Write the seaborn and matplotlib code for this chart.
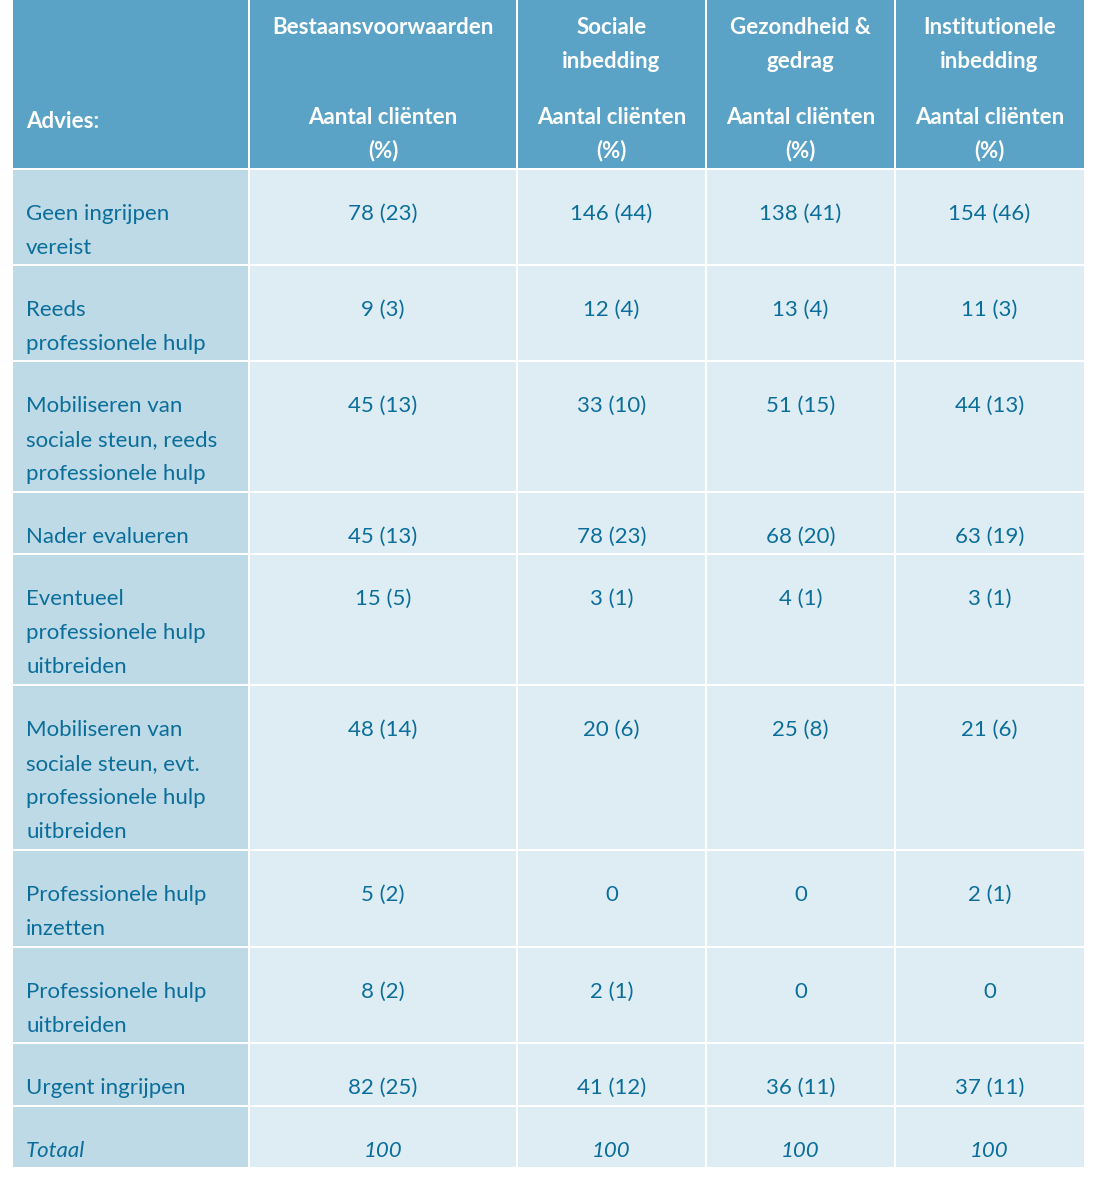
import matplotlib
matplotlib.use("Agg")
import matplotlib.pyplot as plt
import seaborn as sns

sns.set_theme(style="white")
plt.rcParams['font.family'] = ['Lato', 'DejaVu Sans']

# ---- data ----
row_labels = [
    "Geen ingrijpen\nvereist",
    "Reeds\nprofessionele hulp",
    "Mobiliseren van\nsociale steun, reeds\nprofessionele hulp",
    "Nader evalueren",
    "Eventueel\nprofessionele hulp\nuitbreiden",
    "Mobiliseren van\nsociale steun, evt.\nprofessionele hulp\nuitbreiden",
    "Professionele hulp\ninzetten",
    "Professionele hulp\nuitbreiden",
    "Urgent ingrijpen",
]
total_label = "Totaal"
corner_label = "Advies:"
domains = ["Bestaansvoorwaarden", "Sociale\ninbedding", "Gezondheid &\ngedrag", "Institutionele\ninbedding"]
subheader = "Aantal cliënten\n(%)"

bestaans_n = [78, 9, 45, 45, 15, 48, 5, 8, 82]
bestaans_pct = [23, 3, 13, 13, 5, 14, 2, 2, 25]
sociaal_n = [146, 12, 33, 78, 3, 20, 0, 2, 41]
sociaal_pct = [44, 4, 10, 23, 1, 6, 0, 1, 12]
gezond_n = [138, 13, 51, 68, 4, 25, 0, 0, 36]
gezond_pct = [41, 4, 15, 20, 1, 8, 0, 0, 11]
instit_n = [154, 11, 44, 63, 3, 21, 2, 0, 37]
instit_pct = [46, 3, 13, 19, 1, 6, 1, 0, 11]
totals = [100, 100, 100, 100]

col_n = [bestaans_n, sociaal_n, gezond_n, instit_n]
col_pct = [bestaans_pct, sociaal_pct, gezond_pct, instit_pct]

# ---- layout (pixels) ----
W, H = 1098, 1196
col_edges = [13, 249, 517, 706, 895, 1084]
header_h = 168
row_heights = [94, 94, 129, 60, 129, 163, 95, 94, 61, 60]
gap = 2
line_h = 34
first_line = 42

HEADER_C = "#5ba3c6"
FIRST_C = "#bddae6"
BODY_C = "#deedf4"
TEXT_C = "#0b6e9a"
FS = 16

fig = plt.figure(figsize=(W / 100, H / 100), dpi=100)
ax = fig.add_axes([0, 0, 1, 1])
ax.set_xlim(0, W)
ax.set_ylim(H, 0)
ax.axis("off")


def fmt(n, p):
    return "0" if n == 0 else f"{n} ({p})"


def cell(x0, x1, y0, y1, color):
    ax.bar(x0, y1 - y0, width=x1 - x0, bottom=y0, align="edge",
           color=color, linewidth=0)


def lines(x, ytop, text, ha, **kw):
    for i, t in enumerate(text.split("\n")):
        ax.text(x, ytop + i * line_h, t, ha=ha, va="center_baseline", **kw)


# header
for j in range(5):
    x0 = col_edges[j] + (gap / 2 if j > 0 else 0)
    x1 = col_edges[j + 1] - (gap / 2 if j < 4 else 0)
    cell(x0, x1, 0, header_h, HEADER_C)
lines(col_edges[0] + 13, 120, corner_label, "left", color="white",
      fontsize=FS, fontweight="bold")
for j, d in enumerate(domains):
    xc = (col_edges[j + 1] + col_edges[j + 2]) / 2
    lines(xc, 25, d, "center", color="white", fontsize=FS, fontweight="bold")
    lines(xc, 115, subheader, "center", color="white", fontsize=FS,
          fontweight="bold")

# body
y = header_h + gap
all_labels = row_labels + [total_label]
for r, lab in enumerate(all_labels):
    y0, y1 = y, y + row_heights[r]
    for j in range(5):
        x0 = col_edges[j] + (gap / 2 if j > 0 else 0)
        x1 = col_edges[j + 1] - (gap / 2 if j < 4 else 0)
        cell(x0, x1, y0, y1, FIRST_C if j == 0 else BODY_C)
    is_total = r == len(row_labels)
    style = "italic" if is_total else "normal"
    lines(col_edges[0] + 13, y0 + first_line, lab, "left", color=TEXT_C,
          fontsize=FS, fontstyle=style)
    for j in range(4):
        xc = (col_edges[j + 1] + col_edges[j + 2]) / 2
        txt = str(totals[j]) if is_total else fmt(col_n[j][r], col_pct[j][r])
        lines(xc, y0 + first_line, txt, "center", color=TEXT_C, fontsize=FS,
              fontstyle=style)
    y = y1 + gap

fig.savefig("out.png", dpi=100, facecolor="white")
